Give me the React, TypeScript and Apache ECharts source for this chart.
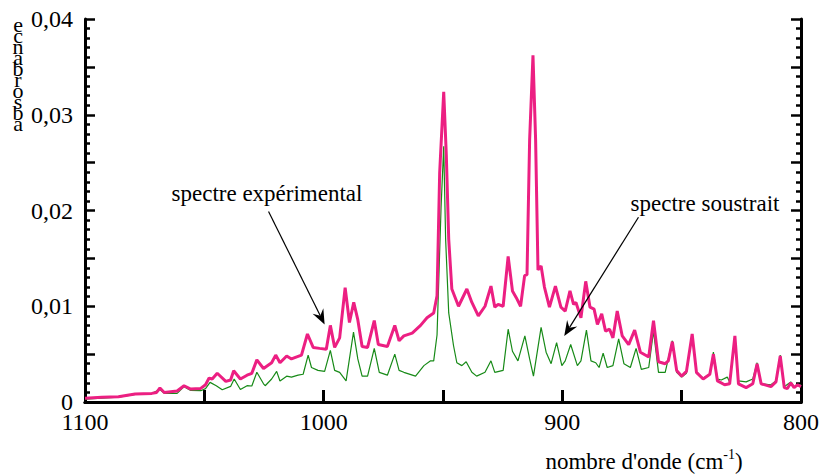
import React, { useEffect, useRef } from "react";
import * as echarts from "echarts";

// spectre expérimental (pink)
const expWave = [
  1100, 1093, 1086, 1079, 1072, 1070, 1068.6, 1066.8, 1061.4, 1058.5, 1055.7, 1051.5, 1049.5, 1048, 1046.7, 1044.6,
  1041, 1039, 1037.7, 1034.9, 1032.1, 1030.1, 1028, 1025.2, 1021.8, 1020.1, 1018.3, 1015.5, 1013.5, 1009.3, 1006.8,
  1004.4, 1001.7, 998.9, 997.2, 995.4, 993.3, 991, 989.2, 987.4, 985.7, 983.9, 981.6, 978.8, 977.1, 973.3, 970.2,
  968.4, 966.4, 962.9, 959.4, 956.7, 953.9, 952.5, 951.4, 949.7, 948.6, 947.6, 946.3, 943.5, 940, 937.9, 935.2, 932.4,
  929.9, 928.3, 926.9, 924.8, 922.7, 920.9, 919.3, 917.5, 915.8, 914.8, 913.7, 912.3, 911.2, 910.2, 908.9, 907.5,
  905.4, 902.9, 900.6, 898.8, 896.8, 895.3, 894.3, 892.2, 890.2, 888.4, 886.7, 885.3, 883.5, 881.9, 880.2, 878.8,
  877, 874.9, 872.2, 869.7, 867.3, 863.8, 861.8, 859.7, 856.9, 855.6, 853.9, 852.1, 850, 848, 845.6, 843.8, 841,
  838.2, 836.7, 835, 832, 829.9, 827.7, 826.2, 823, 820.2, 818.4, 816.7, 812.6, 810.5, 808.7, 807, 805.7, 804.3,
  802.9, 801.5, 800,
];
const expAbs = [
  0.0004, 0.0005, 0.00055, 0.00083, 0.0009, 0.001, 0.00146, 0.001, 0.00115, 0.0017, 0.00135, 0.00142, 0.0018, 0.0025,
  0.0024, 0.003, 0.00215, 0.0023, 0.00326, 0.0024, 0.0028, 0.003, 0.0044, 0.0035, 0.0041, 0.0049, 0.0041, 0.0048,
  0.0045, 0.0049, 0.0071, 0.0057, 0.0056, 0.0055, 0.008, 0.0057, 0.0067, 0.01195, 0.0083, 0.0104, 0.0086, 0.0058,
  0.0057, 0.0085, 0.006, 0.0058, 0.008, 0.0064, 0.0069, 0.0072, 0.008, 0.0088, 0.0093, 0.0111, 0.0239, 0.0324,
  0.0257, 0.017, 0.0118, 0.01, 0.0118, 0.0104, 0.009, 0.01, 0.0121, 0.0099, 0.0102, 0.01, 0.0152, 0.0116, 0.0109,
  0.01, 0.0132, 0.0133, 0.0274, 0.0362, 0.0274, 0.0138, 0.0142, 0.012, 0.0099, 0.0121, 0.0099, 0.0095, 0.0116,
  0.0102, 0.0104, 0.0088, 0.0126, 0.0099, 0.0097, 0.0081, 0.0092, 0.0074, 0.0076, 0.0067, 0.0095, 0.0069, 0.006,
  0.0075, 0.0052, 0.0047, 0.0085, 0.0042, 0.004, 0.0043, 0.0063, 0.0033, 0.0027, 0.0032, 0.0071, 0.0031, 0.0024,
  0.0029, 0.005, 0.0022, 0.0018, 0.0019, 0.0069, 0.0019, 0.0015, 0.0019, 0.004, 0.0019, 0.0016, 0.0021, 0.0048,
  0.0015, 0.0014, 0.002, 0.0015, 0.0018, 0.0016,
];

// spectre soustrait (green)
const subWave = [
  1100, 1086, 1079, 1072, 1068.6, 1066.8, 1061.4, 1058.5, 1055.7, 1051.5, 1049.5, 1047.6, 1045, 1042.5, 1039, 1037.5,
  1034.9, 1032.1, 1030.1, 1028, 1025.2, 1024.5, 1021.8, 1019.7, 1018.3, 1015.5, 1013.5, 1010.7, 1008.6, 1006.5, 1005.1,
  1002.4, 999.6, 997.2, 995.4, 993.3, 990.6, 987.5, 985.7, 983.9, 981.6, 978.8, 976.7, 973.3, 970.2, 968.4, 966.4,
  961.5, 958, 955.2, 953.9, 952.5, 950.8, 949.7, 948.9, 947.6, 945.6, 944.2, 942.1, 940.3, 937.9, 935.9, 932.4, 929.9,
  928.3, 924.8, 922.7, 920.9, 918.6, 915.7, 913.7, 912.1, 908.9, 906.8, 904.7, 902.4, 900.2, 898.8, 896.5, 893.7,
  892.2, 889.9, 888, 886, 884.6, 882.9, 881.2, 878.8, 876.4, 874.2, 871.5, 869.1, 866.9, 863.8, 861.8, 859.7, 856.9,
  853.9, 852.1, 850, 848, 845.6, 843.8, 841, 838.2, 836.7, 835, 833.4, 830.9, 829.9, 827.7, 826.2, 823, 820.2, 818.4,
  816.7, 812.6, 810.5, 808.7, 807, 804.3, 802.9, 800,
];
const subAbs = [
  0.0003, 0.0005, 0.0008, 0.0009, 0.0013, 0.0009, 0.0009, 0.0016, 0.0012, 0.00118, 0.0014, 0.00205, 0.0017, 0.00128,
  0.00163, 0.0024, 0.0013, 0.0017, 0.00167, 0.0031, 0.0019, 0.0017, 0.0024, 0.0032, 0.0022, 0.0027, 0.0026, 0.0028,
  0.0029, 0.0049, 0.0036, 0.0033, 0.0032, 0.0054, 0.0033, 0.0031, 0.0022, 0.0073, 0.0045, 0.0027, 0.0027, 0.0056,
  0.0031, 0.0028, 0.005, 0.0033, 0.0031, 0.0027, 0.0038, 0.0043, 0.0043, 0.007, 0.0204, 0.0267, 0.017, 0.0093,
  0.0059, 0.0041, 0.0038, 0.0042, 0.0031, 0.0027, 0.0031, 0.0043, 0.0031, 0.0033, 0.0076, 0.0053, 0.0043, 0.0069,
  0.0045, 0.0027, 0.0078, 0.0052, 0.004, 0.0062, 0.0038, 0.0043, 0.006, 0.0038, 0.0043, 0.0075, 0.0043, 0.0041,
  0.0036, 0.0051, 0.0036, 0.0038, 0.0066, 0.004, 0.0036, 0.0056, 0.0034, 0.0036, 0.0074, 0.0031, 0.0031, 0.0064,
  0.0031, 0.0026, 0.003, 0.0071, 0.003, 0.0025, 0.0029, 0.0052, 0.0024, 0.0023, 0.0026, 0.0021, 0.0068, 0.0022,
  0.0021, 0.0024, 0.0041, 0.0019, 0.0018, 0.0022, 0.0049, 0.0016, 0.0021, 0.0016, 0.0018,
];

const xLabels = [1100, 1000, 900, 800];
const yAxisTitle = "absorbance";
const xAxisTitle = "nombre d'onde (cm";
const annotations = [
  { text: "spectre expérimental", label: [267, 193], from: [1023.1, 0.0199], to: [999.6, 0.0081] },
  { text: "spectre soustrait", label: [705, 203], from: [868.1, 0.0193], to: [899.2, 0.0069] },
];

const FONT = "Liberation Serif, Times New Roman, serif";

export default function App() {
  const ref = useRef<HTMLDivElement>(null);
  useEffect(() => {
    if (!ref.current) return;
    const chart = echarts.init(ref.current, null, { renderer: "svg" });
    const yFmt = (v: number) => {
      const k = Math.round(v * 1000);
      if (k % 10 !== 0) return "";
      if (k === 0) return "0";
      return (k / 1000).toFixed(2).replace(".", ",");
    };
    const xFmt = (v: number) => (xLabels.includes(Math.round(v)) ? String(Math.round(v)) : "");
    const axisLine = { show: true, lineStyle: { color: "#000", width: 3 } };
    const yCommon = {
      type: "value" as const,
      min: 0,
      max: 0.04,
      interval: 0.005,
      axisLine,
      axisTick: { show: true, inside: true, length: 10, lineStyle: { color: "#000", width: 2.5 } },
      minorTick: { show: true, splitNumber: 5, length: 5, lineStyle: { color: "#000", width: 2.5 } },
      splitLine: { show: false },
    };
    chart.setOption({
      animation: false,
      textStyle: { fontFamily: FONT },
      grid: { left: 85, right: 15, top: 19, bottom: 73, containLabel: false },
      xAxis: [
        {
          type: "value",
          min: 800,
          max: 1100,
          interval: 50,
          inverse: true,
          position: "bottom",
          axisLine,
          axisTick: { show: true, inside: true, length: 12, lineStyle: { color: "#000", width: 3 } },
          axisLabel: { formatter: xFmt, color: "#000", fontFamily: FONT, fontSize: 24, margin: 8 },
          splitLine: { show: false },
        },
        {
          type: "value",
          min: 800,
          max: 1100,
          inverse: true,
          position: "top",
          axisLine,
          axisTick: { show: false },
          axisLabel: { show: false },
          splitLine: { show: false },
        },
      ],
      yAxis: [
        {
          ...yCommon,
          position: "left",
          axisLabel: { formatter: yFmt, color: "#000", fontFamily: FONT, fontSize: 24, margin: 12 },
        },
        {
          ...yCommon,
          position: "right",
          axisLabel: { show: false },
        },
      ],
      series: [
        {
          name: "spectre soustrait",
          type: "line",
          xAxisIndex: 0,
          yAxisIndex: 0,
          data: subWave.map((w, i) => [w, subAbs[i]]),
          symbol: "none",
          lineStyle: { color: "#178a17", width: 1.2 },
          z: 2,
        },
        {
          name: "spectre expérimental",
          type: "line",
          xAxisIndex: 0,
          yAxisIndex: 0,
          data: expWave.map((w, i) => [w, expAbs[i]]),
          symbol: "none",
          lineStyle: { color: "#ec1f82", width: 3 },
          z: 3,
        },
      ],
    });

    const graphics: any[] = [];
    annotations.forEach((a) => {
      const p0 = chart.convertToPixel({ xAxisIndex: 0, yAxisIndex: 0 }, a.from) as number[];
      const p1 = chart.convertToPixel({ xAxisIndex: 0, yAxisIndex: 0 }, a.to) as number[];
      const dx = p1[0] - p0[0];
      const dy = p1[1] - p0[1];
      const len = Math.hypot(dx, dy);
      const ux = dx / len;
      const uy = dy / len;
      const nx = -uy;
      const ny = ux;
      const L = 15;
      const W = 6;
      const base = [p1[0] - ux * L, p1[1] - uy * L];
      const notch = [p1[0] - ux * L * 0.65, p1[1] - uy * L * 0.65];
      graphics.push({
        type: "line",
        shape: { x1: p0[0], y1: p0[1], x2: notch[0], y2: notch[1] },
        style: { stroke: "#000", lineWidth: 1.2 },
        z: 10,
      });
      graphics.push({
        type: "polygon",
        shape: {
          points: [
            [p1[0], p1[1]],
            [base[0] + nx * W, base[1] + ny * W],
            notch,
            [base[0] - nx * W, base[1] - ny * W],
          ],
        },
        style: { fill: "#000" },
        z: 10,
      });
      graphics.push({
        type: "text",
        x: a.label[0],
        y: a.label[1],
        style: {
          text: a.text,
          fill: "#000",
          fontFamily: FONT,
          fontSize: 23,
          align: "center",
          verticalAlign: "middle",
        },
        z: 10,
      });
    });
    graphics.push({
      type: "text",
      x: 18,
      y: 74,
      style: {
        text: yAxisTitle.split("").reverse().join("\n"),
        fill: "#000",
        fontFamily: FONT,
        fontSize: 22,
        lineHeight: 11,
        align: "center",
        verticalAlign: "middle",
      },
    });
    graphics.push({
      type: "text",
      x: 644,
      y: 460,
      style: {
        text: `{a|${xAxisTitle}}{s|-1}{a|)}`,
        align: "center",
        verticalAlign: "middle",
        rich: {
          a: { fontFamily: FONT, fontSize: 23, fill: "#000", verticalAlign: "bottom", lineHeight: 25 },
          s: { fontFamily: FONT, fontSize: 14, fill: "#000", verticalAlign: "top", lineHeight: 25 },
        },
      },
    });
    chart.setOption({ graphic: graphics });

    return () => chart.dispose();
  }, []);
  return <div ref={ref} style={{ position: "absolute", left: 0, top: 0, width: 822, height: 475 }} />;
}
